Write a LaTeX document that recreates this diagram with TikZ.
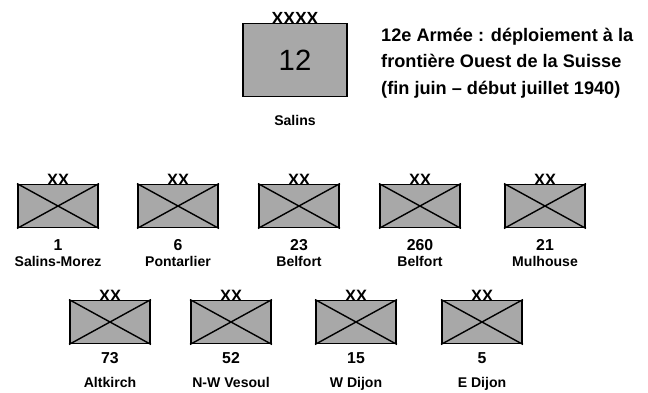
\documentclass[tikz,border=0pt]{standalone}
\usepackage{fontspec}
\setmainfont{Liberation Sans}
\definecolor{divgray}{HTML}{A8A8A8}
\tikzset{
  divbox/.style={draw, line width=1.6pt, fill=divgray, minimum width=2.4cm,
    minimum height=1.29cm, inner sep=0pt},
  armybox/.style={divbox, minimum width=3.12cm, minimum height=2.19cm},
  echelon/.style={font=\bfseries\fontsize{14}{14}\selectfont, inner sep=0pt,
    anchor=south, yshift=-1.5pt},
  num/.style={font=\bfseries\fontsize{13.5}{14}\selectfont, inner sep=0pt, anchor=base},
  place/.style={font=\bfseries\fontsize{12}{14}\selectfont, inner sep=0pt, anchor=base},
  crossline/.style={line width=1.2pt},
}
\begin{document}
\begin{tikzpicture}[x=0.03cm,y=-0.03cm]
\useasboundingbox (0,0) rectangle (648,392);
% armee
\node[armybox] (army) at (295,60) {\fontsize{25}{25}\selectfont 12};
\node[echelon, font=\bfseries\fontsize{15}{15}\selectfont] (armyech) at (army.north) {XXXX};
\node[place] (armyhq) at (295,125) {Salins};
\node[anchor=base west, inner sep=0pt, font=\bfseries\fontsize{15.5}{18}\selectfont]
  (titre1) at (381,41) {12e Armée : déploiement à la};
\node[anchor=base west, inner sep=0pt, font=\bfseries\fontsize{15.5}{18}\selectfont]
  (titre2) at (381,67) {frontière Ouest de la Suisse};
\node[anchor=base west, inner sep=0pt, font=\bfseries\fontsize{15.5}{18}\selectfont]
  (date) at (381,94) {(fin juin – début juillet 1940)};
% divisions, premiere ligne
\foreach \x/\n/\p [count=\i] in {58/1/Salins-Morez, 178/6/Pontarlier,
  299/23/Belfort, 420/260/Belfort, 545/21/Mulhouse}{
  \node[divbox] (div\i) at (\x,206) {};
  \draw[crossline] (div\i.north west) -- (div\i.south east)
    (div\i.south west) -- (div\i.north east);
  \node[echelon] (ech\i) at (div\i.north) {XX};
  \node[num] (num\i) at (\x,250) {\n};
  \node[place] (pc\i) at (\x,266) {\p};
}
% divisions, deuxieme ligne
\foreach \x/\n/\p [count=\i from 6] in {110/73/Altkirch, 231/52/N-W Vesoul,
  356/15/W Dijon, 482/5/E Dijon}{
  \node[divbox] (div\i) at (\x,322) {};
  \draw[crossline] (div\i.north west) -- (div\i.south east)
    (div\i.south west) -- (div\i.north east);
  \node[echelon] (ech\i) at (div\i.north) {XX};
  \node[num] (num\i) at (\x,363) {\n};
  \node[place] (pc\i) at (\x,387) {\p};
}
\end{tikzpicture}
\end{document}
